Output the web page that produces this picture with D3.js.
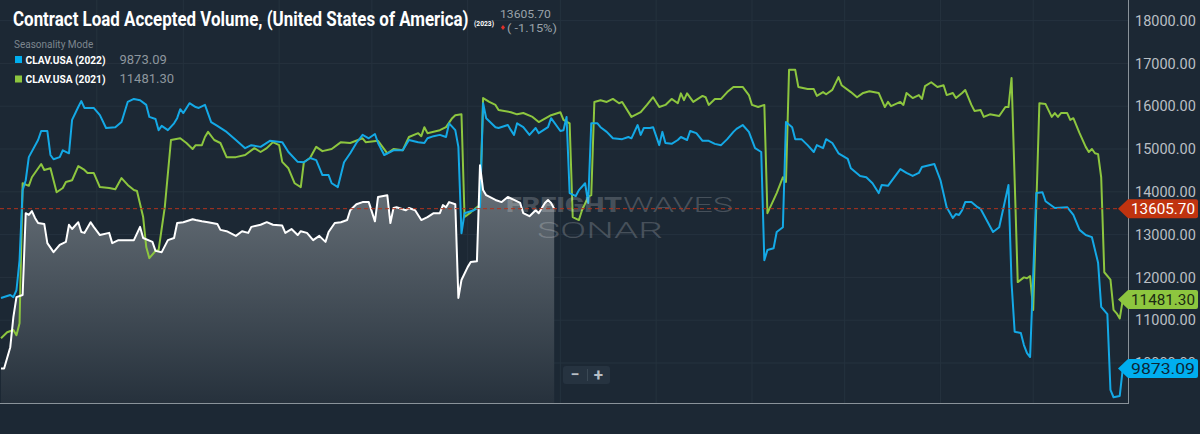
<!DOCTYPE html>
<html>
<head>
<meta charset="utf-8">
<script src="https://cdn.jsdelivr.net/npm/d3@7"></script>
<style>
  html, body { margin: 0; padding: 0; background: #1c2834; overflow: hidden; }
  svg { display: block; font-family: Roboto, "Noto Sans", sans-serif; }
</style>
</head>
<body>
<div id="chart"></div>
<script>
// day of year (0 = Jan 1) and value
const clav2023 = [[0,9870],[1,9870],[3,10370],[4,11070],[5,11540],[7,11590],[8,13500],[9,13460],[10,13550],[11,13390],[12,13270],[14,13250],[15,12800],[17,12590],[19,12760],[21,12830],[22,13230],[23,13130],[25,13290],[26,13060],[27,13040],[29,13290],[30,13180],[32,12990],[35,13040],[36,12800],[38,12870],[43,12870],[45,13180],[46,12920],[49,12830],[50,12620],[52,12590],[54,12870],[56,12920],[57,13270],[59,13290],[62,13360],[63,13340],[65,13310],[67,13290],[70,13250],[71,13110],[73,13080],[76,12970],[78,13080],[80,13040],[81,13180],[84,13230],[86,13290],[88,13230],[91,13210],[92,13040],[94,13130],[96,12990],[97,13080],[99,13040],[101,12870],[103,12970],[105,12830],[106,13060],[108,13270],[110,13290],[112,13340],[113,13570],[115,13710],[117,13760],[119,13760],[121,13310],[122,13880],[125,13920],[126,13270],[127,13620],[128,13640],[131,13570],[132,13620],[134,13570],[136,13340],[138,13410],[140,13500],[142,13500],[143,13690],[144,13640],[145,13760],[147,13710],[148,11520],[149,11940],[151,12240],[152,12360],[154,12380],[155,14620],[156,14040],[157,13920],[160,13810],[162,13760],[164,13880],[166,13810],[168,13740],[169,13500],[171,13430],[173,13570],[174,13500],[176,13740],[177,13810],[178,13740],[179,13605.7]];

const clav2022 = [[0,11520],[3,11590],[4,11540],[5,11700],[6,12400],[7,14040],[8,14270],[9,14810],[12,15210],[13,15420],[15,15420],[16,14860],[17,14760],[19,14810],[20,14970],[22,14900],[23,15680],[25,15980],[26,16120],[27,15960],[30,15960],[32,15790],[34,15490],[37,15510],[39,15630],[41,16100],[43,16170],[45,16140],[47,16030],[48,15750],[50,15700],[51,15440],[52,15540],[54,15440],[56,15600],[57,15720],[58,15930],[59,15840],[61,16070],[63,15980],[64,15960],[66,16030],[68,15630],[70,15540],[73,15400],[76,15210],[79,15020],[81,15090],[84,15050],[87,15190],[91,15160],[93,14930],[96,14700],[98,14690],[100,14790],[102,14740],[104,14390],[106,14390],[107,14200],[109,14110],[111,14690],[113,14900],[115,15140],[117,15330],[119,15250],[121,15350],[122,15140],[124,14860],[127,14970],[130,14970],[132,15210],[135,15160],[137,15140],[138,15250],[140,15300],[142,15330],[144,15280],[145,15600],[147,15440],[148,15050],[149,13030],[150,13500],[153,13570],[155,13640],[156,16070],[157,15720],[160,15510],[161,15490],[164,15560],[165,15440],[166,15330],[167,15600],[169,15510],[171,15330],[173,15490],[174,15370],[177,15510],[178,15720],[181,15420],[182,15440],[183,15750],[184,13970],[186,13900],[187,14040],[189,14200],[190,13740],[191,15600],[193,15600],[194,15510],[196,15400],[198,15250],[201,15230],[203,15280],[204,15250],[206,15560],[207,15330],[208,15490],[210,15490],[211,15510],[213,15090],[214,15400],[215,15140],[217,15120],[219,15210],[220,15280],[222,15210],[223,15420],[225,15370],[227,15190],[229,15190],[231,15120],[233,15090],[235,15230],[237,15400],[238,15470],[240,15560],[242,15400],[244,15020],[246,14930],[247,12400],[248,12640],[250,12680],[251,13060],[253,13170],[254,15630],[256,15510],[257,15230],[259,15230],[261,15090],[263,14930],[264,15090],[266,15020],[267,15230],[269,15140],[271,14900],[274,14770],[275,14550],[278,14370],[280,14340],[282,14200],[284,13970],[285,14160],[287,14140],[291,14530],[293,14440],[295,14370],[297,14440],[298,14580],[302,14650],[304,14270],[306,13640],[308,13390],[309,13480],[310,13460],[311,13570],[312,13760],[314,13760],[316,13640],[317,13600],[321,13060],[323,13170],[326,14160],[327,11870],[328,10730],[330,10700],[331,10420],[332,10230],[333,10140],[335,13970],[337,13990],[338,13780],[341,13620],[345,13640],[347,13460],[349,13110],[351,12990],[353,12940],[355,12340],[356,11310],[358,11140],[359,9370],[360,9200],[362,9230],[363,9873.09]];

const clav2021 = [[0,10580],[2,10720],[4,10770],[5,10650],[6,10930],[7,14200],[9,14140],[10,14340],[13,14650],[14,14510],[16,14550],[18,13990],[20,14090],[21,14230],[23,14270],[25,14600],[27,14510],[28,14440],[30,14440],[32,14110],[35,14090],[37,14060],[39,14320],[41,14160],[43,14040],[44,14020],[46,13410],[47,12710],[48,12450],[50,12620],[51,12640],[53,13640],[55,15210],[58,15250],[60,15140],[62,15000],[63,15090],[65,15090],[66,15280],[67,15400],[69,15210],[71,15140],[73,14810],[76,14810],[79,14860],[82,15020],[84,14930],[86,15020],[88,15160],[90,15090],[91,14700],[93,14550],[95,14200],[97,14110],[98,14690],[100,14790],[102,15050],[104,14950],[107,15000],[110,15160],[113,15140],[117,15250],[118,15160],[122,15190],[125,14900],[127,15000],[130,14970],[132,15280],[135,15370],[136,15300],[137,15510],[138,15370],[142,15440],[144,15510],[146,15720],[147,15790],[149,15810],[150,13410],[152,13520],[154,13640],[155,13690],[156,16190],[158,16100],[160,16030],[161,15910],[165,15860],[167,15810],[169,15840],[172,15750],[174,15630],[177,15750],[178,15790],[181,15860],[182,15680],[184,15600],[185,13410],[187,13340],[188,13570],[190,13880],[191,13920],[192,16100],[194,16140],[196,16100],[198,16170],[200,16070],[201,16100],[204,15750],[207,15860],[209,16030],[211,16210],[213,15980],[215,16030],[217,16170],[219,16070],[220,16300],[221,16140],[222,16300],[224,16100],[227,16240],[228,16210],[229,16030],[231,16170],[233,16170],[235,16330],[237,16450],[240,16450],[242,16260],[243,16030],[245,15980],[247,16030],[248,13500],[250,13810],[251,13970],[253,14340],[254,14230],[255,16850],[257,16850],[258,16450],[261,16400],[263,16400],[264,16240],[266,16330],[267,16280],[269,16380],[271,16680],[272,16490],[275,16330],[277,16210],[279,16310],[281,16350],[284,16310],[286,15980],[287,16100],[288,16000],[291,16100],[292,16030],[293,16310],[295,16190],[297,16260],[298,16170],[299,16470],[301,16560],[303,16450],[305,16490],[306,16260],[308,16310],[309,16190],[311,16310],[312,16380],[314,16030],[315,15890],[317,15910],[318,15750],[320,15810],[323,15770],[325,15980],[326,15980],[327,16660],[329,11890],[331,12000],[332,11980],[333,12030],[334,11240],[336,16070],[338,16050],[340,15750],[341,15840],[342,15750],[343,15840],[345,15840],[346,15680],[347,15720],[349,15370],[351,15050],[352,14930],[353,15000],[354,14900],[355,14880],[356,14340],[357,12120],[359,11950],[360,11240],[361,11160],[362,11040],[363,11481.3]];

const monthLabels = ["2023","Feb","Mar","Apr","May","Jun","Jul","Aug","Sep","Oct","Nov","Dec","2024"];
const yTicks = [10000,11000,12000,13000,14000,15000,16000,17000,18000];
const legendNames = ["CLAV.USA (2022)", "CLAV.USA (2021)"];
const legendValues = ["9873.09", "11481.30"];
const lastValue = 13605.70;
const lastChange = "( -1.15%)";

const W = 1200, H = 434;
const plotRight = 1128, plotBottom = 403;
const start = new Date(2023, 0, 1);
const toDate = d => d3.timeDay.offset(start, d);

const x = d3.scaleTime().domain([start, new Date(2024, 0, 1)]).range([1, 1129]);
const y = d3.scaleLinear().domain([10000, 18000]).range([363, 20.6]);

const svg = d3.select("#chart").append("svg")
    .attr("width", W)
    .attr("height", H);

svg.append("rect").attr("width", W).attr("height", H).attr("fill", "#1c2834");

// squeeze a text horizontally to a given width (condensed look)
function squeeze(sel, x0, y0, width) {
  const len = sel.node().getComputedTextLength();
  sel.attr("x", 0).attr("y", 0)
     .attr("transform", `translate(${x0},${y0}) scale(${width / len},1)`);
  return sel;
}

const defs = svg.append("defs");
defs.append("clipPath").attr("id", "plotClip")
  .append("rect").attr("x", 0).attr("y", 0).attr("width", plotRight).attr("height", plotBottom);
defs.append("clipPath").attr("id", "axisClip")
  .append("rect").attr("x", 0).attr("y", plotBottom).attr("width", plotRight).attr("height", 40);

const grad = defs.append("linearGradient").attr("id", "fill2023")
    .attr("gradientUnits", "userSpaceOnUse")
    .attr("x1", 0).attr("y1", 190).attr("x2", 0).attr("y2", plotBottom);
grad.append("stop").attr("offset", 0).attr("stop-color", "#646d75");
grad.append("stop").attr("offset", 1).attr("stop-color", "#26313c");

const monthDates = d3.range(13).map(i => new Date(2023, i, 1));

// grid
const grid = svg.append("g");
grid.selectAll("line.h").data(yTicks).enter().append("line")
    .attr("x1", 0).attr("x2", plotRight)
    .attr("y1", d => y(d)).attr("y2", d => y(d))
    .attr("stroke", "#25323e").attr("stroke-width", 1);
grid.selectAll("line.v").data(monthDates.slice(1, 12)).enter().append("line")
    .attr("x1", d => x(d)).attr("x2", d => x(d))
    .attr("y1", 0).attr("y2", plotBottom)
    .attr("stroke", "#25323e").attr("stroke-width", 1);

// 2023 area + lines
const plot = svg.append("g").attr("clip-path", "url(#plotClip)");

const area = d3.area()
    .x(d => x(toDate(d[0])))
    .y0(plotBottom)
    .y1(d => y(d[1]));

const line = d3.line()
    .x(d => x(toDate(d[0])))
    .y(d => y(d[1]));

plot.append("path").datum(clav2023)
    .attr("d", area)
    .attr("fill", "url(#fill2023)");

// watermark
const wm = svg.append("g").attr("fill", "#ffffff").attr("fill-opacity", 0.2);
wm.append("text").attr("x", 506).attr("y", 212)
    .attr("font-size", 21).attr("font-weight", 900)
    .attr("textLength", 116).attr("lengthAdjust", "spacingAndGlyphs")
    .text("FREIGHT");
wm.append("text").attr("x", 623).attr("y", 212)
    .attr("font-size", 21).attr("font-weight", 300)
    .attr("textLength", 110).attr("lengthAdjust", "spacingAndGlyphs")
    .text("WAVES");
wm.append("text").attr("x", 537).attr("y", 238)
    .attr("font-size", 22).attr("font-weight", 300)
    .attr("textLength", 126).attr("lengthAdjust", "spacingAndGlyphs")
    .text("SONAR");

// last value reference line
svg.append("line")
    .attr("x1", 0).attr("x2", 1118)
    .attr("y1", y(lastValue)).attr("y2", y(lastValue))
    .attr("stroke", "#b3321c").attr("stroke-width", 1)
    .attr("stroke-dasharray", "4,3");

plot.append("path").datum(clav2021)
    .attr("d", line).attr("fill", "none")
    .attr("stroke", "#8dc63f").attr("stroke-width", 2).attr("stroke-linejoin", "round");
plot.append("path").datum(clav2022)
    .attr("d", line).attr("fill", "none")
    .attr("stroke", "#14a9e6").attr("stroke-width", 2).attr("stroke-linejoin", "round");
plot.append("path").datum(clav2023)
    .attr("d", line).attr("fill", "none")
    .attr("stroke", "#ffffff").attr("stroke-width", 2).attr("stroke-linejoin", "round");

// bottom axis
const xAxis = svg.append("g")
    .attr("transform", `translate(0,${plotBottom})`)
    .attr("clip-path", "url(#axisClip)")
    .call(d3.axisBottom(x).tickValues(monthDates)
        .tickFormat((d, i) => monthLabels[i]).tickSize(4).tickSizeOuter(0).tickPadding(5));
xAxis.select(".domain").remove();
xAxis.selectAll(".tick line").attr("stroke", "#7c868e");
xAxis.selectAll(".tick text").attr("fill", "#a7aeb4")
    .attr("font-size", 13).attr("font-family", "Roboto, sans-serif");

svg.append("line").attr("x1", 0).attr("x2", plotRight)
    .attr("y1", plotBottom + 0.5).attr("y2", plotBottom + 0.5)
    .attr("stroke", "#8a939a");
svg.append("line").attr("x1", plotRight + 0.5).attr("x2", plotRight + 0.5)
    .attr("y1", 0).attr("y2", plotBottom + 1)
    .attr("stroke", "#8a939a");

// right axis
const yAxis = svg.append("g")
    .attr("transform", `translate(${plotRight},0)`)
    .call(d3.axisRight(y).tickValues(yTicks).tickFormat(d3.format(".2f"))
        .tickSize(0).tickPadding(7));
yAxis.select(".domain").remove();
yAxis.selectAll(".tick text").attr("fill", "#b9bfc4")
    .attr("font-size", 14.5).attr("font-family", "Roboto, sans-serif");

// value flags on the axis
const flags = [
  {v: lastValue, bg: "#c0330f", fg: "#ffffff"},
  {v: 11481.30, bg: "#8dc63f", fg: "#1c2a14"},
  {v: 9873.09, bg: "#00aeef", fg: "#0c2636"}
];
const flagG = svg.append("g");
flags.forEach(f => {
  const cy = y(f.v);
  flagG.append("path")
      .attr("d", `M1118,${cy} L1128,${cy - 9.5} L1196,${cy - 9.5} Q1198,${cy - 9.5} 1198,${cy - 7.5} L1198,${cy + 7.5} Q1198,${cy + 9.5} 1196,${cy + 9.5} L1128,${cy + 9.5} Z`)
      .attr("fill", f.bg);
  flagG.append("text")
      .attr("x", 1131).attr("y", cy + 5.5)
      .attr("font-size", 15).attr("fill", f.fg)
      .attr("textLength", 64).attr("lengthAdjust", "spacingAndGlyphs")
      .text(d3.format(".2f")(f.v));
});

// zoom control
const zc = svg.append("g");
zc.append("rect").attr("x", 563).attr("y", 366).attr("width", 47).attr("height", 18)
    .attr("rx", 3).attr("fill", "#263340");
zc.append("line").attr("x1", 587.5).attr("x2", 587.5).attr("y1", 369).attr("y2", 381)
    .attr("stroke", "#3b4955");
zc.append("text").attr("x", 575).attr("y", 380).attr("text-anchor", "middle")
    .attr("font-size", 16).attr("font-weight", 700).attr("fill", "#b8bfc5").text("\u2212");
zc.append("text").attr("x", 598.5).attr("y", 381).attr("text-anchor", "middle")
    .attr("font-size", 17).attr("font-weight", 700).attr("fill", "#b8bfc5").text("+");

// title
squeeze(svg.append("text")
    .attr("font-size", 20).attr("font-weight", 700).attr("fill", "#ffffff")
    .text("Contract Load Accepted Volume, (United States of America)"), 13, 26, 456);
squeeze(svg.append("text")
    .attr("font-size", 8).attr("font-weight", 700).attr("fill", "#ffffff")
    .text("(2023)"), 474, 26, 20);
squeeze(svg.append("text")
    .attr("font-size", 11.5).attr("fill", "#9aa2a9")
    .text(d3.format(".2f")(lastValue)), 500, 17.5, 51);
svg.append("path").attr("d", "M501,27.5 L503,25 L505,27.5 L503,30 Z").attr("fill", "#e0302a");
squeeze(svg.append("text")
    .attr("font-size", 11.5).attr("fill", "#9aa2a9")
    .text(lastChange), 507, 32, 50);

// legend
svg.append("text").attr("x", 14).attr("y", 48)
    .attr("font-size", 10).attr("fill", "#7d868e").text("Seasonality Mode");
const legColors = ["#00aeef", "#8dc63f"];
legendNames.forEach((name, i) => {
  const ly = 63.5 + i * 19.5;
  svg.append("rect").attr("x", 15).attr("y", ly - 7.5).attr("width", 7).attr("height", 7)
      .attr("fill", legColors[i]);
  svg.append("text").attr("x", 25.5).attr("y", ly)
      .attr("font-size", 11.5).attr("font-weight", 700).attr("fill", "#ffffff")
      .attr("textLength", 80).attr("lengthAdjust", "spacingAndGlyphs")
      .text(name);
  svg.append("text").attr("x", 119.5).attr("y", ly)
      .attr("font-size", 13).attr("fill", "#8d969d")
      .text(legendValues[i]);
});
</script>
</body>
</html>
